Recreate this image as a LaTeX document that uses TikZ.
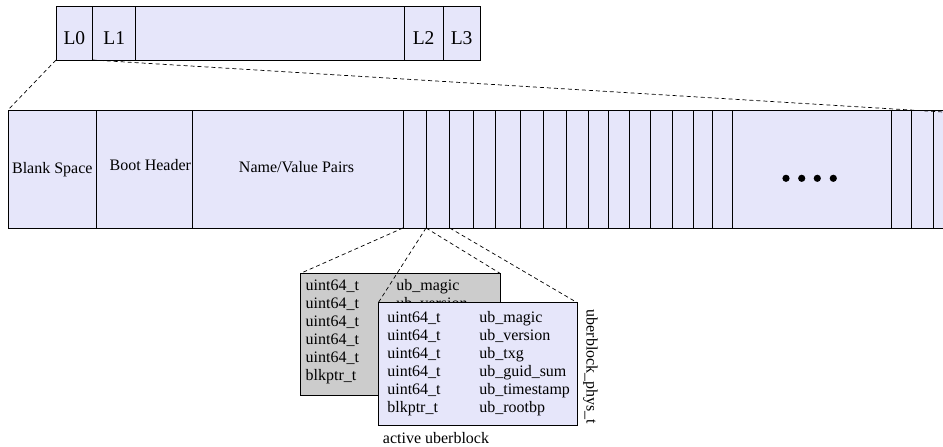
\documentclass[tikz,border=0pt]{standalone}
\usepackage{fontspec}
\setmainfont{Liberation Serif}
\usetikzlibrary{calc}
\definecolor{lavender}{RGB}{230,230,250}
\definecolor{oldgray}{RGB}{204,204,204}

\tikzset{
	topcell/.style={draw, fill=lavender, line width=0.8pt, inner sep=0pt, outer sep=0pt, minimum height=54pt, text height=24pt, text depth=0pt, anchor=north west, font=\fontsize{19.5}{22}\selectfont},
	barlabel/.style={anchor=base, inner sep=0pt, font=\fontsize{16}{18}\selectfont},
	zoomline/.style={line width=0.7pt, dash pattern=on 4pt off 3pt},
	ubbox/.style={draw, line width=0.8pt, inner sep=0pt, outer sep=0pt, minimum width=199pt, minimum height=122.3pt, font=\fontsize{16}{18}\selectfont}
}

\begin{document}
\begin{tikzpicture}[x=1pt, y=-1pt]
			%%%%% START %%%%%
			\useasboundingbox (0,0) rectangle (943,447);
			
			\node[topcell, minimum width=36.7pt] (l0) at (56,6) {L0};
			\node[topcell, minimum width=43pt] (l1) at (l0.north east) {L1};
			\node[topcell, minimum width=268.3pt] (lmid) at (l1.north east) {};
			\node[topcell, minimum width=39.3pt] (l2) at (lmid.north east) {L2};
			\node[topcell, minimum width=36.7pt] (l3) at (l2.north east) {L3};
			
			\fill[lavender] (8,110) rectangle (943,228);
			\draw[line width=0.8pt] (943,110) -- (8,110) -- (8,228) -- (943,228);
			\foreach \x [count=\i] in {96.7,192.7,403,426,449.7,473.3,495.7,520.3,543,566.3,588.3,608.5,629.3,650,672.3,693.7,712.7,732.3,891,911.7,933}
				\draw[line width=0.8pt] (\x,110) -- (\x,228) coordinate (div-\i);
			
			\node[barlabel] (blank) at (52.3,173) {Blank Space};
			\node[barlabel] (boot) at (150.3,170) {Boot Header};
			\node[barlabel] (nvpairs) at (296.5,172) {Name/Value Pairs};
			\foreach \x in {786,801.7,817.3,833.3}
				\fill (\x,178.3) circle (3.6pt);
			
			\coordinate (bar-nw) at (8,110);
			\coordinate (bar-ne) at (943,112);
			\draw[zoomline] (l0.south west) -- (bar-nw);
			\draw[zoomline] (l0.south east) -- (bar-ne);
			
			% older uberblock, mostly hidden behind the active one
			\node[ubbox, fill=oldgray, minimum width=199.3pt, minimum height=122.4pt] (oldub) at (400.35,334.5) {\begin{tabular}{@{}p{90.7pt}@{}p{98.6pt}@{}}
				uint64\_t & ub\_magic\\
				uint64\_t & ub\_version\\
				uint64\_t & \\
				uint64\_t & \\
				uint64\_t & \\
				blkptr\_t & \\[6pt]
			\end{tabular}};
			\node[ubbox, fill=lavender] (ub) at (477.8,363.85) {\begin{tabular}{@{}p{92pt}@{}p{89pt}@{}}
				uint64\_t & ub\_magic\\
				uint64\_t & ub\_version\\
				uint64\_t & ub\_txg\\
				uint64\_t & ub\_guid\_sum\\
				uint64\_t & ub\_timestamp\\
				blkptr\_t & ub\_rootbp
			\end{tabular}};
			
			\draw[zoomline] (div-3) -- (oldub.north west);
			\draw[zoomline] (div-4) -- (oldub.north east);
			\draw[zoomline] (div-4) -- (ub.north west);
			\draw[zoomline] (div-5) -- (ub.north east);
			
			\node[barlabel, anchor=base west] (active) at (382.7,443) {active uberblock};
			\node[barlabel, rotate=-90] (physt) at (586.5,367) {uberblock\_phys\_t};
			
			%%%%% END %%%%%
\end{tikzpicture}
\end{document}
